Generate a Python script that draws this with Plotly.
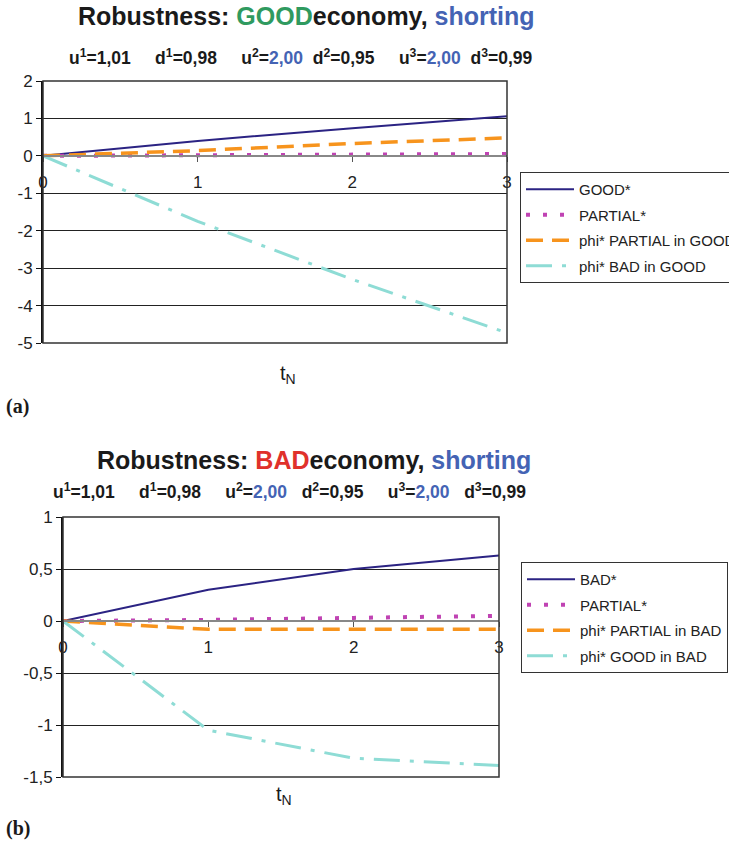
import plotly.graph_objects as go

# ---------------- data ----------------
T = [0, 1, 2, 3]

# panel (a): GOOD economy
GOOD_STAR = [0, 0.40, 0.74, 1.06]
PARTIAL_A = [0, 0.01, 0.04, 0.05]
PHI_PARTIAL_IN_GOOD = [0, 0.14, 0.33, 0.48]
PHI_BAD_IN_GOOD = [0, -1.75, -3.30, -4.73]
NAMES_A = ["GOOD*", "PARTIAL*", "phi* PARTIAL in GOOD", "phi* BAD in GOOD"]
YTICKS_A = [2, 1, 0, -1, -2, -3, -4, -5]
YLABELS_A = ["2", "1", "0", "-1", "-2", "-3", "-4", "-5"]
YRANGE_A = [-5, 2]

# panel (b): BAD economy
BAD_STAR = [0, 0.30, 0.50, 0.63]
PARTIAL_B = [0, 0.01, 0.03, 0.05]
PHI_PARTIAL_IN_BAD = [0, -0.08, -0.08, -0.08]
PHI_GOOD_IN_BAD = [0, -1.05, -1.32, -1.39]
NAMES_B = ["BAD*", "PARTIAL*", "phi* PARTIAL in BAD", "phi* GOOD in BAD"]
YTICKS_B = [1, 0.5, 0, -0.5, -1, -1.5]
YLABELS_B = ["1", "0,5", "0", "-0,5", "-1", "-1,5"]
YRANGE_B = [-1.5, 1]

XTICKS = [0, 1, 2, 3]
XLABELS = ["0", "1", "2", "3"]
XRANGE = [0, 3]

# ---------------- styles ----------------
W, H = 729, 843
FONT = "Liberation Sans, Arial, sans-serif"
STYLES = [
    dict(color="#2b2383", width=2, dash="solid"),
    dict(color="#c043b3", width=4, dash="4px,13px"),
    dict(color="#f7941d", width=3.5, dash="17px,9px"),
    dict(color="#8edcd5", width=3, dash="26px,10px,4px,10px"),
]

def px_x(p):
    return p / W

def px_y(p):
    return 1 - p / H

DOM_A_X = [px_x(43), px_x(507)]
DOM_A_Y = [px_y(343), px_y(81)]
DOM_B_X = [px_x(63), px_x(499)]
DOM_B_Y = [px_y(777), px_y(517)]

def zero_pos(dom, rng):
    return dom[0] + (0 - rng[0]) / (rng[1] - rng[0]) * (dom[1] - dom[0])

fig = go.Figure()

series_a = [GOOD_STAR, PARTIAL_A, PHI_PARTIAL_IN_GOOD, PHI_BAD_IN_GOOD]
series_b = [BAD_STAR, PARTIAL_B, PHI_PARTIAL_IN_BAD, PHI_GOOD_IN_BAD]

for i, (name, ys) in enumerate(zip(NAMES_A, series_a)):
    fig.add_trace(go.Scatter(x=T, y=ys, name=name, mode="lines", line=STYLES[i],
                             xaxis="x", yaxis="y", legend="legend",
                             legendgroup="a%d" % i))
for i, (name, ys) in enumerate(zip(NAMES_B, series_b)):
    fig.add_trace(go.Scatter(x=T, y=ys, name=name, mode="lines", line=STYLES[i],
                             xaxis="x2", yaxis="y2", legend="legend2",
                             legendgroup="b%d" % i))

xcommon = dict(range=XRANGE, tickvals=XTICKS, ticktext=XLABELS, showgrid=False,
               zeroline=False, showline=True, linecolor="#888888", linewidth=1.5,
               ticks="outside", ticklen=5, tickcolor="#555555", ticklabelstandoff=6,
               tickfont=dict(family=FONT, size=17, color="#222222"), anchor="free")
ycommon = dict(showgrid=True, gridcolor="#222222", gridwidth=1, zeroline=False,
               showline=True, linecolor="#111111", linewidth=2, ticks="outside",
               ticklen=5, tickcolor="#111111",
               tickfont=dict(family=FONT, size=17, color="#222222"))

LEG = dict(xanchor="left", yanchor="top", bordercolor="#333333", borderwidth=1,
           bgcolor="white", font=dict(family=FONT, size=15, color="#222222"),
           itemwidth=48, tracegroupgap=3)

fig.update_layout(
    width=W, height=H, margin=dict(l=0, r=0, t=0, b=0, autoexpand=False),
    paper_bgcolor="white", plot_bgcolor="white",
    xaxis=dict(domain=DOM_A_X, position=zero_pos(DOM_A_Y, YRANGE_A), **xcommon),
    yaxis=dict(domain=DOM_A_Y, range=YRANGE_A, tickvals=YTICKS_A, ticktext=YLABELS_A,
               anchor="x", **ycommon),
    xaxis2=dict(domain=DOM_B_X, position=zero_pos(DOM_B_Y, YRANGE_B), **xcommon),
    yaxis2=dict(domain=DOM_B_Y, range=YRANGE_B, tickvals=YTICKS_B, ticktext=YLABELS_B,
                anchor="x2", **ycommon),
    legend=dict(x=px_x(520), y=px_y(172), **LEG),
    legend2=dict(x=px_x(521), y=px_y(562), **LEG),
    showlegend=True,
)

# plot borders
for xr, yr in [("x domain", "y domain"), ("x2 domain", "y2 domain")]:
    fig.add_shape(type="rect", xref=xr, yref=yr, x0=0, x1=1, y0=0, y1=1,
                  line=dict(color="#333333", width=1.5), fillcolor="rgba(0,0,0,0)")

GREEN = "#2f9a5f"
RED = "#e0312b"
BLUE = "#4463b4"
NB = "\u00a0"

def ann(text, x, y, size, family=FONT, xanchor="center"):
    fig.add_annotation(text=text, xref="paper", yref="paper", x=px_x(x), y=px_y(y),
                       xanchor=xanchor, yanchor="middle", showarrow=False,
                       font=dict(family=family, size=size, color="#1a1a1a"))

def subtitle(wide, narrow):
    return ("<b>u<sup>1</sup>=1,01" + NB * wide + "d<sup>1</sup>=0,98" + NB * wide
            + "u<sup>2</sup>=<span style='color:%s'>2,00</span>" % BLUE + NB * narrow
            + "d<sup>2</sup>=0,95" + NB * wide
            + "u<sup>3</sup>=<span style='color:%s'>2,00</span>" % BLUE + NB * narrow
            + "d<sup>3</sup>=0,99</b>")

ann("<b>Robustness:" + NB + "<span style='color:%s'>GOOD</span>economy," % GREEN
    + NB + "<span style='color:%s'>shorting</span></b>" % BLUE, 306, 16, 25)
ann(subtitle(5, 2), 301, 57, 17.5)
ann("t<sub>N</sub>", 288, 374, 20)
ann("<b>(a)</b>", 4, 406, 20, family="Liberation Serif, Times New Roman, serif",
    xanchor="left")

ann("<b>Robustness:" + NB + "<span style='color:%s'>BAD</span>economy," % RED
    + NB + "<span style='color:%s'>shorting</span></b>" % BLUE, 314, 460, 25)
ann(subtitle(5, 3), 289, 491, 17.5)
ann("t<sub>N</sub>", 284, 795, 20)
ann("<b>(b)</b>", 4, 828, 20, family="Liberation Serif, Times New Roman, serif",
    xanchor="left")

fig.write_html("out.html")
